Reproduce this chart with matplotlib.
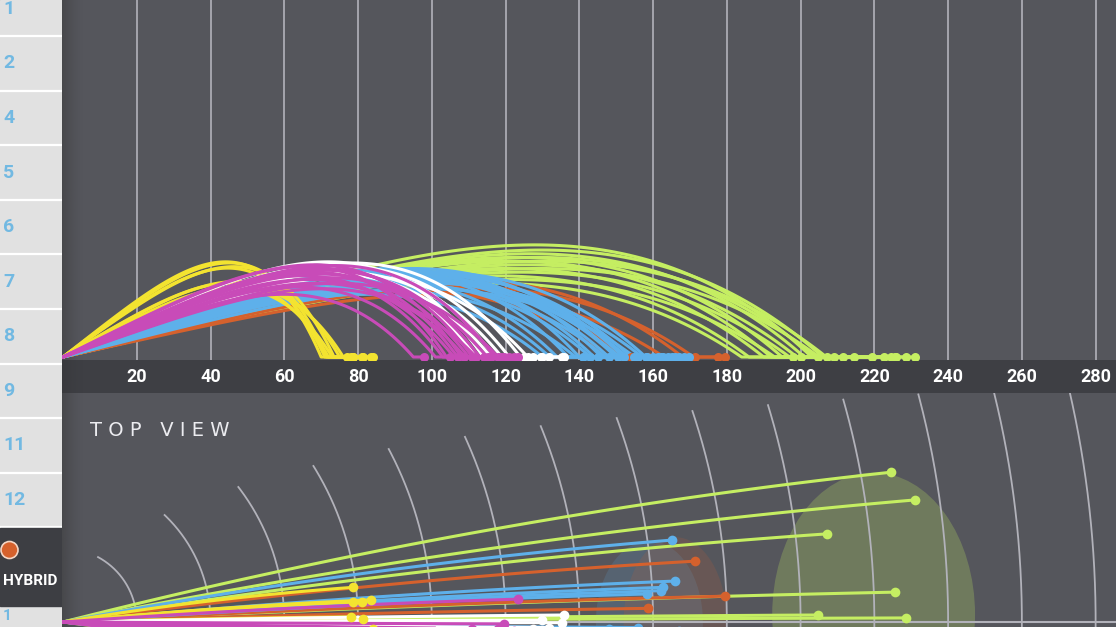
import numpy as np
import matplotlib
matplotlib.use("Agg")
import matplotlib.pyplot as plt
from matplotlib.patches import Ellipse, Circle

# ---- data (yards) ----
# side view: carry, total (where the dot sits), apex height
# top view: lateral offset at the end (positive = up on the picture)
yellow_carry = [70, 71, 71.5, 72, 73, 73.5, 75, 76]
yellow_total = [77, 78, 78.7, 78.7, 81, 81.4, 83.4, 84]
yellow_apex = [25.8, 24.1, 25.5, 20, 18.7, 24.5, 20.5, 19]
yellow_side = [-3, 1.4, 9.4, 5.5, 5.5, 0.7, 6, -2]

magenta_carry = [95, 101, 103, 104, 106, 107, 108, 109, 110, 111, 112, 113, 115, 117, 118]
magenta_total = [98, 105, 107, 108.8, 111, 112, 114.2, 115.3, 116, 117.9, 118.8, 119.7, 121, 122.3, 123.5]
magenta_apex = [17, 19, 22, 24.5, 21, 23, 25, 20, 22.5, 24, 18.5, 23.5, 21.5, 24.8, 20]
magenta_side = [-4, -6, -3, -8, -2, -5, -10, -3.5, -7, -1.8, -4.5, -0.5, -6.5, -2.5, 6.2]

white_carry = [112, 114, 116, 117, 119, 121, 124, 126]
white_total = [125, 126, 127.5, 129.8, 129.6, 131.8, 135.2, 135.9]
white_apex = [24, 25.8, 22.5, 25, 23, 24.5, 25.5, 22]
white_side = [-3, -5, -2, 0.5, -6, -1.5, -0.2, 1.9]

blue_carry = [130, 132, 134, 137, 139, 140, 143, 144, 146, 147,
              148, 150, 150, 151, 152, 153, 154, 155, 157, 158]
blue_total = [141, 143, 145, 148, 150.5, 152, 154.8, 156, 158, 158.4,
              160, 161.3, 162.2, 162.8, 164, 165, 166, 167, 168.5, 169.7]
blue_apex = [17, 19, 21, 23, 18, 24, 20, 22, 23.5, 19.5,
             21.5, 24, 22, 20.5, 23, 21, 22.5, 18.5, 20, 23]
blue_side = [-5, -3, -8, -2, -6, -4, -10, -1.5, -7, 7.6,
             -3.5, -12, 8.5, 9.4, -5.5, 22.2, 11.1, -2.5, -9, -4.5]

orange_carry = [148, 152, 163, 168, 171]
orange_total = [154, 158.7, 171.4, 177.6, 179.5]
orange_apex = [18, 20, 17, 21, 19]
orange_side = [-4, 3.7, 16.5, -6, 7]

green_carry = [184, 186, 190, 192, 193, 195, 197, 199, 201, 203, 204, 206, 207, 205]
green_total = [198, 200, 204.7, 207.2, 209, 211.5, 214.5, 219.4, 222.6, 224.4, 225.6, 228.5, 231, 226]
green_apex = [20, 22, 24, 26, 21, 27, 23, 25, 28, 30.4, 27, 29, 26, 24]
green_side = [-8, -12, 1.9, 23.9, -5, -15, -3, -20, -9, 40.6, 8.1, 1.1, 33.1, -6]

# dispersion ellipses in top view: centre x, centre y, width, height
green_spread = (219.8, 2, 55, 77)
blue_spread = (159, 0, 29, 44)
orange_spread = (166, 0, 28, 46)

distance_ticks = list(range(20, 281, 20))
arc_radius = list(range(20, 281, 20))
arc_reach = [17.6, 29, 36.6, 42.3, 46.9, 50.2, 53.1, 55.3, 57.2, 58.8, 60.3, 61.7, 63, 64]

row_labels = ["1", "2", "4", "5", "6", "7", "8", "9", "11", "12"]

# ---- colours ----
BG = "#55565c"
BAND = "#3e3f44"
GRID = "#b2b2ba"
C_YELLOW = "#f3e330"
C_MAGENTA = "#c84bb8"
C_WHITE = "#ffffff"
C_BLUE = "#5eb0ea"
C_ORANGE = "#d5612d"
C_GREEN = "#c5ee62"

clubs = [
    (C_GREEN, green_carry, green_total, green_apex, green_side),
    (C_ORANGE, orange_carry, orange_total, orange_apex, orange_side),
    (C_BLUE, blue_carry, blue_total, blue_apex, blue_side),
    (C_YELLOW, yellow_carry, yellow_total, yellow_apex, yellow_side),
    (C_WHITE, white_carry, white_total, white_apex, white_side),
    (C_MAGENTA, magenta_carry, magenta_total, magenta_apex, magenta_side),
]

W, H = 1116, 627
S = 3.688     # pixels per yard
X0 = 63       # pixel x of the tee
cond = ["Roboto", "DejaVu Sans"]

fig = plt.figure(figsize=(W / 100, H / 100), dpi=100)
fig.patch.set_facecolor(BG)


def rect(x0, y0, x1, y1):
    return [x0 / W, 1 - y1 / H, (x1 - x0) / W, (y1 - y0) / H]


def shadow(ax, y0, y1):
    grad = np.zeros((1, 50, 4))
    grad[..., :3] = 0.2
    grad[0, :, 3] = np.linspace(0.55, 0, 50) ** 1.5
    ax.imshow(grad, extent=[(62 - X0) / S, (84 - X0) / S, y0, y1],
              aspect="auto", zorder=0.5, interpolation="bilinear")


xlim = ((62 - X0) / S, (W - X0) / S)

# ---- side view ----
ax = fig.add_axes(rect(62, 0, W, 360))
ax.set_facecolor(BG)
ylim_side = (-(360 - 357) / S, 357 / S)
shadow(ax, *ylim_side)
t = np.linspace(0, 1, 120)
shape = t * (1 - t ** 3)
shape = shape / shape.max()
for col, carry, total, apex, side in clubs:
    for c, tot, a in zip(carry, total, apex):
        ax.plot(np.r_[c * t, tot], np.r_[a * shape, 0], color=col, lw=2.2,
                solid_capstyle="round", zorder=3)
        ax.plot(tot, 0, "o", color=col, ms=6.5, mec="none", zorder=4)
ax.set_xlim(*xlim)
ax.set_ylim(*ylim_side)
ax.set_xticks(distance_ticks)
ax.set_xticklabels([str(v) for v in distance_ticks])
ax.set_yticks([])
ax.tick_params(axis="x", length=0, pad=6, labelcolor="white", labelsize=13)
for lab in ax.get_xticklabels():
    lab.set_family(cond)
    lab.set_fontweight("bold")
ax.grid(axis="x", color=GRID, lw=1.2, zorder=1)
ax.set_axisbelow(True)
for sp in ax.spines.values():
    sp.set_visible(False)
ax.set_zorder(2)

# ---- band under the side view ----
band = fig.add_axes(rect(62, 360, W, 393))
band.set_facecolor(BAND)
band.add_patch(plt.Rectangle((xlim[0], 0), xlim[1] - xlim[0], 1, color=BAND, zorder=0))
shadow(band, 0, 1)
band.set_xlim(*xlim)
band.set_ylim(0, 1)
band.axis("off")
band.set_zorder(1)

# ---- top view ----
top = fig.add_axes(rect(62, 393, W, H))
top.set_facecolor(BG)
ylim_top = ((622 - H) / S, (622 - 393) / S)
shadow(top, *ylim_top)
for col, spread in [(C_GREEN, green_spread), (C_BLUE, blue_spread), (C_ORANGE, orange_spread)]:
    cx, cy, ew, eh = spread
    alpha = 0.24 if col == C_GREEN else 0.15
    top.add_patch(Ellipse((cx, cy), ew, eh, facecolor=col, alpha=alpha,
                          edgecolor="none", zorder=1))
for r, reach in zip(arc_radius, arc_reach):
    th = np.linspace(np.arcsin(-3 / r), np.arcsin(min(reach / r, 1)), 200)
    top.plot(r * np.cos(th), r * np.sin(th), color=GRID, lw=1.3, zorder=2)
top.axhline(0, color=GRID, lw=1.5, zorder=2)
s = np.linspace(0, 1, 80)
bend = 1.4 * s - 0.4 * s ** 2
for col, carry, total, apex, side in clubs:
    for tot, lat in zip(total, side):
        top.plot(tot * s, lat * bend, color=col, lw=2.2, zorder=3)
        top.plot(tot, lat, "o", color=col, ms=7, mec="none", zorder=4)
top.set_xlim(*xlim)
top.set_ylim(*ylim_top)
top.axis("off")
fig.text(90 / W, 1 - 430 / H, "T O P   V I E W", color="#ececf0",
         fontsize=14, family="DejaVu Sans", va="center", ha="left")

# ---- sidebar ----
side = fig.add_axes(rect(0, 0, 62, H))
side.set_facecolor("#e1e1e1")
side.set_xlim(0, 62)
side.set_ylim(H, 0)
side.axis("off")
side.add_patch(plt.Rectangle((0, 0), 62, H, color="#e1e1e1", zorder=0))
row_h = 54.6
for i, lab in enumerate(row_labels):
    yc = 36 - row_h / 2 + row_h * i
    side.text(3, yc, lab, color="#72b9e2", fontsize=14, fontweight="bold",
              family=cond, va="center", ha="left")
    side.plot([0, 62], [36 + row_h * i] * 2, color="white", lw=1.6)
side.add_patch(plt.Rectangle((0, 528), 62, 78, color="#3d3e43", zorder=2))
side.add_patch(Circle((9.5, 550), 8.5, facecolor=C_ORANGE, edgecolor="#f4d6c6", lw=1.2, zorder=3))
side.text(3, 581, "HYBRID", color="white", fontsize=11, fontweight="bold",
          family=cond, va="center", ha="left", zorder=3)
side.text(3, 616, "1", color="#72b9e2", fontsize=11, fontweight="bold",
          family=cond, va="center", ha="left")

fig.savefig("out.png", dpi=100, facecolor=BG)
